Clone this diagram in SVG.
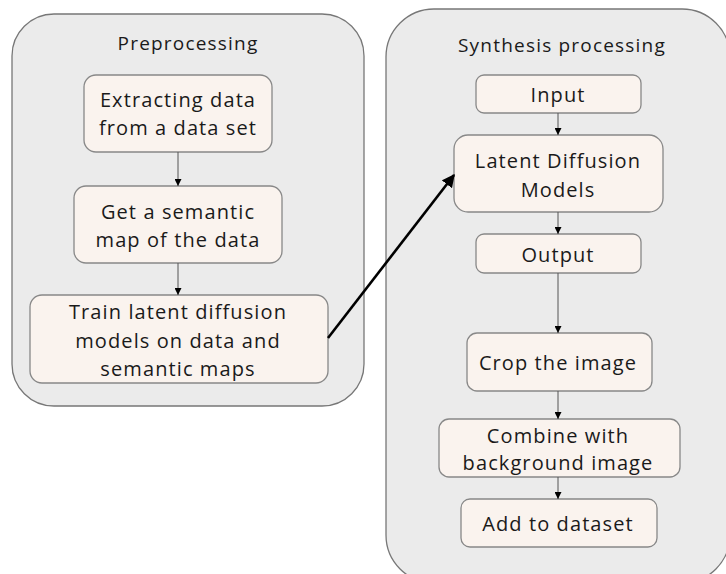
<svg xmlns="http://www.w3.org/2000/svg" width="726" height="574" viewBox="0 0 726 574">
<defs>
<style>
.cont{fill:#ebebeb;stroke:#777;stroke-width:1.3}
.box{fill:#faf3ee;stroke:#888;stroke-width:1.3}
text{font-family:"Open Sans","Liberation Sans",sans-serif;font-size:20px;fill:#1a1a1a;text-anchor:middle;letter-spacing:1.1px}
.title{font-size:19px;letter-spacing:1.2px}
.ln{stroke:#555;stroke-width:1;fill:none}
.big{stroke:#000;stroke-width:2.6;fill:none}
</style>
<marker id="ah" viewBox="0 0 10 10" refX="10" refY="5" markerWidth="7" markerHeight="7" markerUnits="userSpaceOnUse" orient="auto"><path d="M0,0L10,5L0,10z" fill="#000"/></marker>
<marker id="ahb" viewBox="0 0 10 10" refX="9" refY="5" markerWidth="5" markerHeight="5" orient="auto"><path d="M0,0L10,5L0,10z" fill="#000"/></marker>
</defs>
<g id="preprocessing">
<rect class="cont" x="12" y="14" width="352" height="392" rx="42"/>
<text class="title" x="188" y="50">Preprocessing</text>
</g>
<g id="synthesis">
<rect class="cont" x="386" y="9" width="344" height="574" rx="48"/>
<text class="title" x="562" y="52">Synthesis processing</text>
</g>
<g id="extract">
<rect class="box" x="84" y="75" width="188" height="77" rx="12"/>
<text x="178" y="107">Extracting data</text>
<text x="178" y="135">from a data set</text>
</g>
<g id="semantic">
<rect class="box" x="74" y="186" width="208" height="77" rx="12"/>
<text x="178" y="219">Get a semantic</text>
<text x="178" y="247">map of the data</text>
</g>
<g id="train">
<rect class="box" x="30" y="295" width="298" height="88" rx="12"/>
<text x="178" y="319">Train latent diffusion</text>
<text x="178" y="348">models on data and</text>
<text x="178" y="376">semantic maps</text>
</g>
<g id="input">
<rect class="box" x="476" y="75" width="165" height="38" rx="8"/>
<text x="558" y="102">Input</text>
</g>
<g id="ldm">
<rect class="box" x="454" y="135" width="209" height="77" rx="14"/>
<text x="558" y="168">Latent Diffusion</text>
<text x="558" y="197">Models</text>
</g>
<g id="output">
<rect class="box" x="476" y="234" width="165" height="39" rx="8"/>
<text x="558" y="262">Output</text>
</g>
<g id="crop">
<rect class="box" x="467" y="333" width="185" height="58" rx="10"/>
<text x="558" y="370">Crop the image</text>
</g>
<g id="combine">
<rect class="box" x="439" y="419" width="241" height="58" rx="10"/>
<text x="558" y="443">Combine with</text>
<text x="558" y="470">background image</text>
</g>
<g id="add">
<rect class="box" x="461" y="499" width="196" height="48" rx="9"/>
<text x="558" y="531">Add to dataset</text>
</g>
<g id="connectors">
<line class="ln" x1="178" y1="152" x2="178" y2="186" marker-end="url(#ah)"/>
<line class="ln" x1="178" y1="263" x2="178" y2="295" marker-end="url(#ah)"/>
<line class="ln" x1="558" y1="113" x2="558" y2="135" marker-end="url(#ah)"/>
<line class="ln" x1="558" y1="212" x2="558" y2="234" marker-end="url(#ah)"/>
<line class="ln" x1="558" y1="273" x2="558" y2="333" marker-end="url(#ah)"/>
<line class="ln" x1="558" y1="391" x2="558" y2="419" marker-end="url(#ah)"/>
<line class="ln" x1="558" y1="477" x2="558" y2="499" marker-end="url(#ah)"/>
<line class="big" x1="328" y1="338" x2="454" y2="175" marker-end="url(#ahb)"/>
</g>
</svg>
